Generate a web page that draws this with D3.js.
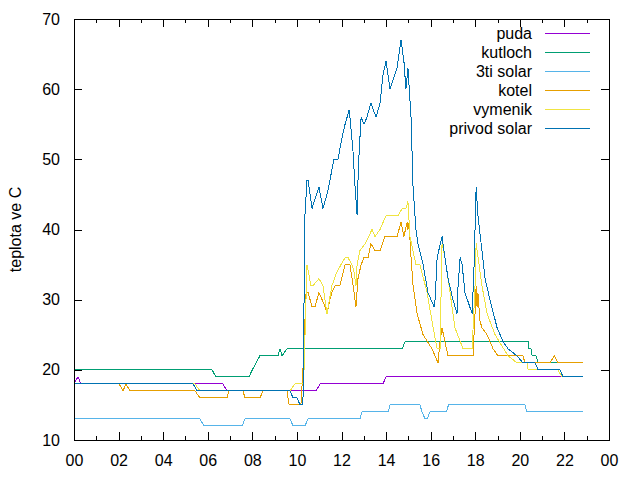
<!DOCTYPE html>
<html>
<head>
<meta charset="utf-8">
<script src="https://cdn.jsdelivr.net/npm/d3@7"></script>
<style>
  body { margin: 0; background: #fff; }
  svg { font-family: "Liberation Sans", Arial, sans-serif; }
  .line { fill: none; stroke-width: 1; shape-rendering: crispEdges; }
  .axis text { font-size: 16px; fill: #000; }
  .axis line { stroke: #000; shape-rendering: crispEdges; }
</style>
</head>
<body>
<div id="chart"></div>
<script>
// time in hours since midnight, temperature in deg C
var pudaData = [[0,18],[0.18,19],[0.31,18],[6.68,18],[6.86,17],[10.86,17],[11.04,18],[13.86,18],[14.0,19],[22.84,19]];

var kutlochData = [[0,20],[6.19,20],[6.37,19],[7.85,19],[8.0,20],[8.17,21],[8.34,22],[9.15,22],[9.24,23],[9.33,22],[9.56,23],
  [14.72,23],[14.85,24],[20.37,24],[20.41,23],[20.5,23],[20.55,22],[20.72,22],[20.82,21],[22.84,21]];

var solar3Data = [[0,13],[5.65,13],[5.83,12],[7.54,12],[7.67,13],[9.69,13],[9.83,12],[10.36,12],[10.5,13],[12.83,13],[12.92,14],
  [14.09,14],[14.18,15],[15.52,15],[15.61,14],[15.75,13],[15.84,13],[15.97,14],[16.7,14],[16.8,15],[20.23,15],[20.32,14],[22.84,14]];

var kotelData = [[0,18],[2.02,18],[2.2,17],[2.33,18],[2.51,17],[5.43,17],[5.65,16],[6.86,16],[6.95,17],[7.58,17],[7.67,16],
  [8.34,16],[8.48,17],[9.56,17],[9.6,16],[9.65,15],[10.18,15],[10.27,20],[10.36,27],[10.41,31],[10.5,31],[10.68,29],[10.81,29],
  [10.99,31],[11.13,30],[11.26,29],[11.35,28],[11.48,30],[11.57,31],[11.71,32],[11.93,32],[12.16,35],[12.38,35],[12.52,32],
  [12.65,29],[12.74,33],[12.88,35],[13.01,36],[13.19,36],[13.32,38],[13.5,37],[13.73,37],[13.95,39],[14.49,39],[14.67,41],
  [14.8,39],[14.94,41],[14.98,40],[15.03,41],[15.12,36],[15.21,32],[15.39,28],[15.66,25],[16.06,23],[16.33,21],[16.42,24],
  [16.51,26],[16.64,24],[16.78,22],[17.9,22],[17.99,28],[18.04,32],[18.08,29],[18.12,31],[18.21,27],[18.3,26],[18.53,25],
  [18.8,23],[19.02,22],[20.14,22],[20.23,21],[21.35,21],[21.55,22],[21.7,21],[22.84,21]];

var vymenikData = [[0,18],[5.43,18],[5.65,17],[9.69,17],[9.91,18],[10.27,18],[10.32,20],[10.45,35],[10.63,32],[10.72,32],
  [10.99,33],[11.17,32],[11.35,28],[11.57,32],[11.8,34],[12.16,36],[12.29,36],[12.47,35],[12.56,34],[12.65,32],[12.7,35],
  [12.83,37],[13.06,38],[13.37,40],[13.5,39],[13.73,40],[14.0,42],[14.54,42],[14.72,43],[14.89,43],[14.98,44],[15.07,39],
  [15.34,35],[15.52,35],[15.84,31],[16.11,26],[16.29,23],[16.42,23],[16.51,38],[16.64,36],[16.87,31],[17.09,26],[17.45,23],
  [17.86,23],[17.99,32],[18.04,38],[18.3,32],[18.53,28],[18.89,25],[19.47,22],[19.87,21],[20.32,21],[20.37,20],[21.71,20],
  [21.89,19],[22.84,19]];

var privodData = [[0,18],[5.34,18],[5.52,17],[9.69,17],[9.83,16],[10.0,16],[10.14,15],[10.27,15],[10.36,42],[10.45,47],
  [10.5,47],[10.68,43],[10.77,44],[10.99,46],[11.17,43],[11.35,45],[11.48,47],[11.66,50],[11.84,50],[12.02,53],[12.16,55],
  [12.34,57],[12.38,56],[12.52,51],[12.61,46],[12.7,42],[12.74,47],[12.79,51],[12.88,56],[13.01,55],[13.14,56],[13.32,58],
  [13.55,56],[13.73,58],[13.86,62],[14.0,64],[14.18,60],[14.49,63],[14.67,67],[14.8,64],[14.89,60],[14.98,63],[15.12,56],
  [15.21,46],[15.34,40],[15.43,38],[15.66,35],[15.88,31],[16.15,29],[16.2,30],[16.29,36],[16.51,39],[16.64,36],[16.78,33],
  [17.0,30],[17.18,28],[17.23,32],[17.32,36],[17.41,35],[17.54,31],[17.86,28],[17.95,35],[18.04,46],[18.08,44],[18.12,42],
  [18.3,37],[18.44,33],[18.66,30],[18.98,26],[19.25,24],[19.47,23],[19.87,22],[20.14,21],[20.68,21],[20.82,20],[21.8,20],
  [21.94,19],[22.84,19]];

var seriesNames = ["puda", "kutloch", "3ti solar", "kotel", "vymenik", "privod solar"];
var seriesData = [pudaData, kutlochData, solar3Data, kotelData, vymenikData, privodData];
var seriesColors = ["#9400d3", "#009e73", "#56b4e9", "#e69f00", "#f0e442", "#0072b2"];

var xTickValues = [0, 2, 4, 6, 8, 10, 12, 14, 16, 18, 20, 22, 24];
var xTickLabels = ["00", "02", "04", "06", "08", "10", "12", "14", "16", "18", "20", "22", "00"];
var yTickValues = [10, 20, 30, 40, 50, 60, 70];
var yLabel = "teplota ve C";

var width = 640, height = 480;
var margin = {top: 19, right: 31, bottom: 40, left: 74};

var svg = d3.select("#chart")
  .append("svg")
  .attr("width", width)
  .attr("height", height);

var x = d3.scaleLinear().domain([0, 24]).range([margin.left, width - margin.right]);
var y = d3.scaleLinear().domain([10, 70]).range([height - margin.bottom, margin.top]);

// axes, ticks pointing inwards like gnuplot
var xAxis = d3.axisBottom(x)
  .tickValues(xTickValues)
  .tickSize(-8)
  .tickPadding(15)
  .tickFormat(function(d, i) { return xTickLabels[i]; });

svg.append("g")
  .attr("class", "axis")
  .attr("transform", "translate(0," + y.range()[0] + ")")
  .call(xAxis)
  .call(function(g) { g.select(".domain").remove(); });

svg.append("g")
  .attr("class", "axis")
  .attr("transform", "translate(0," + y.range()[0] + ")")
  .call(d3.axisBottom(x).ticks(24).tickSize(-4).tickFormat(""))
  .call(function(g) { g.select(".domain").remove(); });

svg.append("g")
  .attr("class", "axis")
  .attr("transform", "translate(0," + y.range()[1] + ")")
  .call(d3.axisTop(x).tickValues(xTickValues).tickSize(-8).tickFormat(""))
  .call(function(g) { g.select(".domain").remove(); });

svg.append("g")
  .attr("class", "axis")
  .attr("transform", "translate(0," + y.range()[1] + ")")
  .call(d3.axisTop(x).ticks(24).tickSize(-4).tickFormat(""))
  .call(function(g) { g.select(".domain").remove(); });

svg.append("g")
  .attr("class", "axis")
  .attr("transform", "translate(" + x.range()[0] + ",0)")
  .call(d3.axisLeft(y).tickValues(yTickValues).tickSize(-8).tickPadding(14).tickFormat(d3.format("d")))
  .call(function(g) { g.select(".domain").remove(); });

svg.append("g")
  .attr("class", "axis")
  .attr("transform", "translate(" + x.range()[1] + ",0)")
  .call(d3.axisRight(y).tickValues(yTickValues).tickSize(-8).tickFormat(""))
  .call(function(g) { g.select(".domain").remove(); });

svg.append("text")
  .attr("transform", "translate(15," + ((y.range()[0] + y.range()[1]) / 2) + ")rotate(-90)")
  .attr("text-anchor", "middle")
  .attr("dy", "0.35em")
  .style("font-size", "16px")
  .text(yLabel);

var line = d3.line()
  .x(function(d) { return x(d[0]); })
  .y(function(d) { return y(d[1]); });

seriesData.forEach(function(data, i) {
  svg.append("path")
    .datum(data)
    .attr("class", "line")
    .attr("stroke", seriesColors[i])
    .attr("d", line);
});

// plot border
svg.append("rect")
  .attr("x", x.range()[0] + 0.5)
  .attr("y", y.range()[1] + 0.5)
  .attr("width", x.range()[1] - x.range()[0])
  .attr("height", y.range()[0] - y.range()[1])
  .attr("fill", "none")
  .attr("stroke", "#000")
  .attr("stroke-width", 1);

// key
var key = svg.append("g").attr("class", "key");
seriesNames.forEach(function(name, i) {
  var ky = 33 + i * 19;
  key.append("text")
    .attr("x", 532)
    .attr("y", ky)
    .attr("dy", "0.35em")
    .attr("text-anchor", "end")
    .style("font-size", "16px")
    .text(name);
  key.append("line")
    .attr("x1", 545)
    .attr("x2", 590)
    .attr("y1", ky + 0.5)
    .attr("y2", ky + 0.5)
    .attr("stroke", seriesColors[i])
    .attr("stroke-width", 1);
});
</script>
</body>
</html>
